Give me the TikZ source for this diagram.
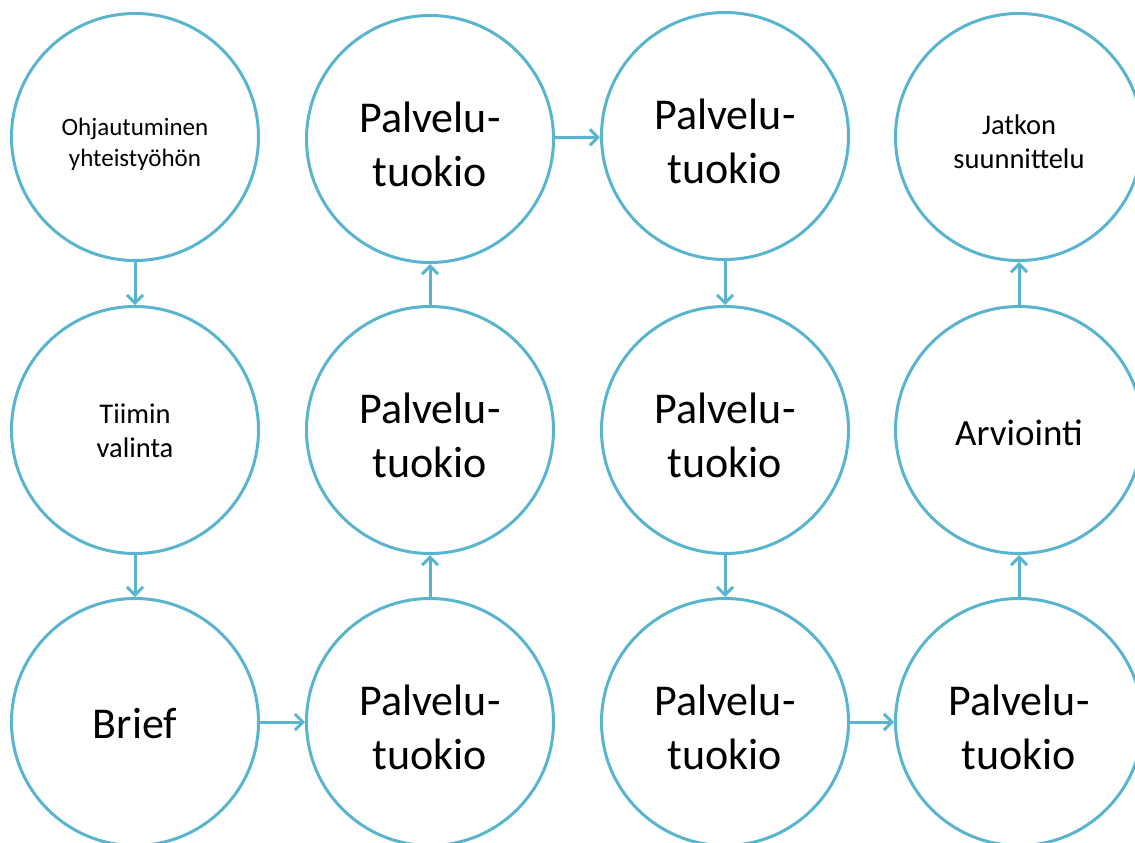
\documentclass[tikz,border=0pt]{standalone}
\usepackage{fontspec}
\setmainfont{Carlito}
\usetikzlibrary{arrows.meta}
\definecolor{ring}{RGB}{88,181,205}
\tikzset{
  stage/.style={circle, draw=ring, line width=3pt, minimum size=247pt,
    inner sep=0pt},
  caption/.style={align=center, text=black, inner sep=0pt},
  small/.style={caption, font=\fontsize{25}{31}\selectfont},
  smallish/.style={caption, font=\fontsize{28.5}{34}\selectfont},
  large/.style={caption, font=\fontsize{44}{54}\selectfont},
  mid/.style={caption, font=\fontsize{37}{45}\selectfont},
  flow/.style={draw=ring, line width=3pt,
    -{Straight Barb[length=8pt,width=16pt,line width=3pt]}}
}
\begin{document}
\begin{tikzpicture}[x=1pt,y=-1pt]
  \useasboundingbox (0,0) rectangle (1135,843);
  % the twelve stages
  \node[stage] (start) at (135,137) {};
  \node[stage] (team)  at (135,430) {};
  \node[stage] (brief) at (135,722) {};
  \node[stage] (s1) at (430,722) {};
  \node[stage] (s2) at (430,430) {};
  \node[stage] (s3) at (430,139) {};
  \node[stage] (s4) at (725,136) {};
  \node[stage] (s5) at (725,430) {};
  \node[stage] (s6) at (725,722) {};
  \node[stage] (s7)   at (1019,722) {};
  \node[stage] (eval) at (1019,430) {};
  \node[stage] (next) at (1019,137) {};
  % their captions
  \node[small]    (startT) at ([yshift=-7pt]start) {Ohjautuminen\\yhteistyöhön};
  \node[smallish] (teamT)  at ([yshift=-1pt]team)  {Tiimin\\valinta};
  \node[large]    (briefT) at ([yshift=-2pt]brief) {Brief};
  \foreach \s in {s1,s2,s3,s4,s5,s6,s7}
    \node[large] (\s T) at ([yshift=-5pt]\s) {Palvelu-\\tuokio};
  \node[mid]      (evalT)  at ([yshift=-3pt]eval)  {Arviointi};
  \node[smallish] (nextT)  at ([yshift=-5pt]next)  {Jatkon\\suunnittelu};
  % flow between the stages
  \draw[flow] (start) -- (team);
  \draw[flow] (team) -- (brief);
  \draw[flow] (brief) -- (s1);
  \draw[flow] (s1) -- (s2);
  \draw[flow] (s2) -- (s3);
  \draw[flow] (s3) -- (s4);
  \draw[flow] (s4) -- (s5);
  \draw[flow] (s5) -- (s6);
  \draw[flow] (s6) -- (s7);
  \draw[flow] (s7) -- (eval);
  \draw[flow] (eval) -- (next);
\end{tikzpicture}
\end{document}
